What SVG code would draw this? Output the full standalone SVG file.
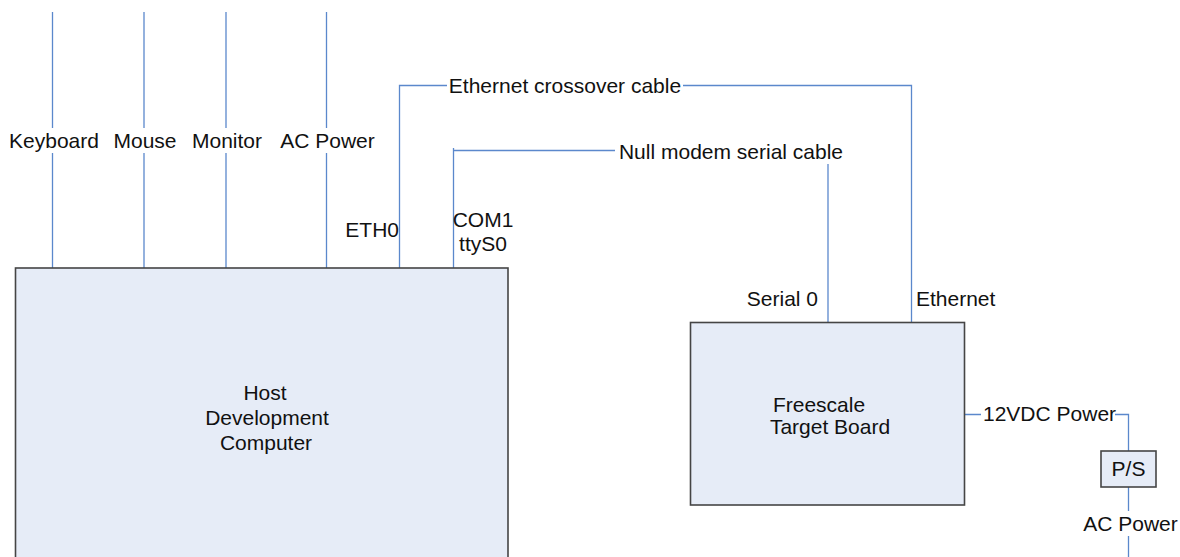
<svg xmlns="http://www.w3.org/2000/svg" width="1180" height="557" viewBox="0 0 1180 557">
  <style>
    .box { fill: #e6ecf7; stroke: #454545; stroke-width: 1.6; }
    .wire { fill: none; stroke: #5b88cc; stroke-width: 1.3; }
    text { font-family: "Liberation Sans", Arial, sans-serif; font-size: 21px; fill: #111; }
    .c { text-anchor: middle; }
  </style>
  <rect width="1180" height="557" fill="#ffffff"/>

  <!-- connectors -->
  <g id="connectors">
    <path class="wire" d="M52.5 12 V128 M52.5 153 V268"/>
    <path class="wire" d="M144 12 V128 M144 153 V268"/>
    <path class="wire" d="M226 12 V128 M226 153 V268"/>
    <path class="wire" d="M326.5 12 V128 M326.5 153 V268"/>
    <path class="wire" d="M399.5 268 V85.5 H447 M683 85.5 H911.5 V322"/>
    <path class="wire" d="M453.5 268 V150.5 H615 M453.5 150.5 V148"/>
    <path class="wire" d="M828 164 V322"/>
    <path class="wire" d="M964 414.5 H981 M1115 414.5 H1128.5 V451"/>
    <path class="wire" d="M1128.5 487 V511 M1128.5 536 V557"/>
  </g>

  <!-- cable and port labels -->
  <g id="labels">
    <text x="54" y="148" class="c">Keyboard</text>
    <text x="145" y="148" class="c">Mouse</text>
    <text x="227" y="148" class="c">Monitor</text>
    <text x="327.5" y="148" class="c">AC Power</text>
    <text x="565" y="92.5" class="c">Ethernet crossover cable</text>
    <text x="731" y="159" class="c">Null modem serial cable</text>
    <text x="399" y="237" text-anchor="end">ETH0</text>
    <text x="483" y="227" class="c">COM1</text>
    <text x="483" y="251" class="c">ttyS0</text>
    <text x="818" y="306" text-anchor="end">Serial 0</text>
    <text x="916" y="306">Ethernet</text>
    <text x="983" y="421">12VDC Power</text>
    <text x="1130.5" y="531" class="c">AC Power</text>
  </g>

  <g id="host">
    <rect class="box" x="15.5" y="268" width="492.5" height="300"/>
    <text x="265" y="400" class="c">Host</text>
    <text x="267" y="425" class="c">Development</text>
    <text x="266" y="450" class="c">Computer</text>
  </g>

  <g id="target">
    <rect class="box" x="690.5" y="322.5" width="274" height="182.5"/>
    <text x="819" y="412" class="c">Freescale</text>
    <text x="830" y="434" class="c">Target Board</text>
  </g>

  <g id="psu">
    <rect class="box" x="1101" y="451" width="55" height="36"/>
    <text x="1128.5" y="476" class="c">P/S</text>
  </g>
</svg>
